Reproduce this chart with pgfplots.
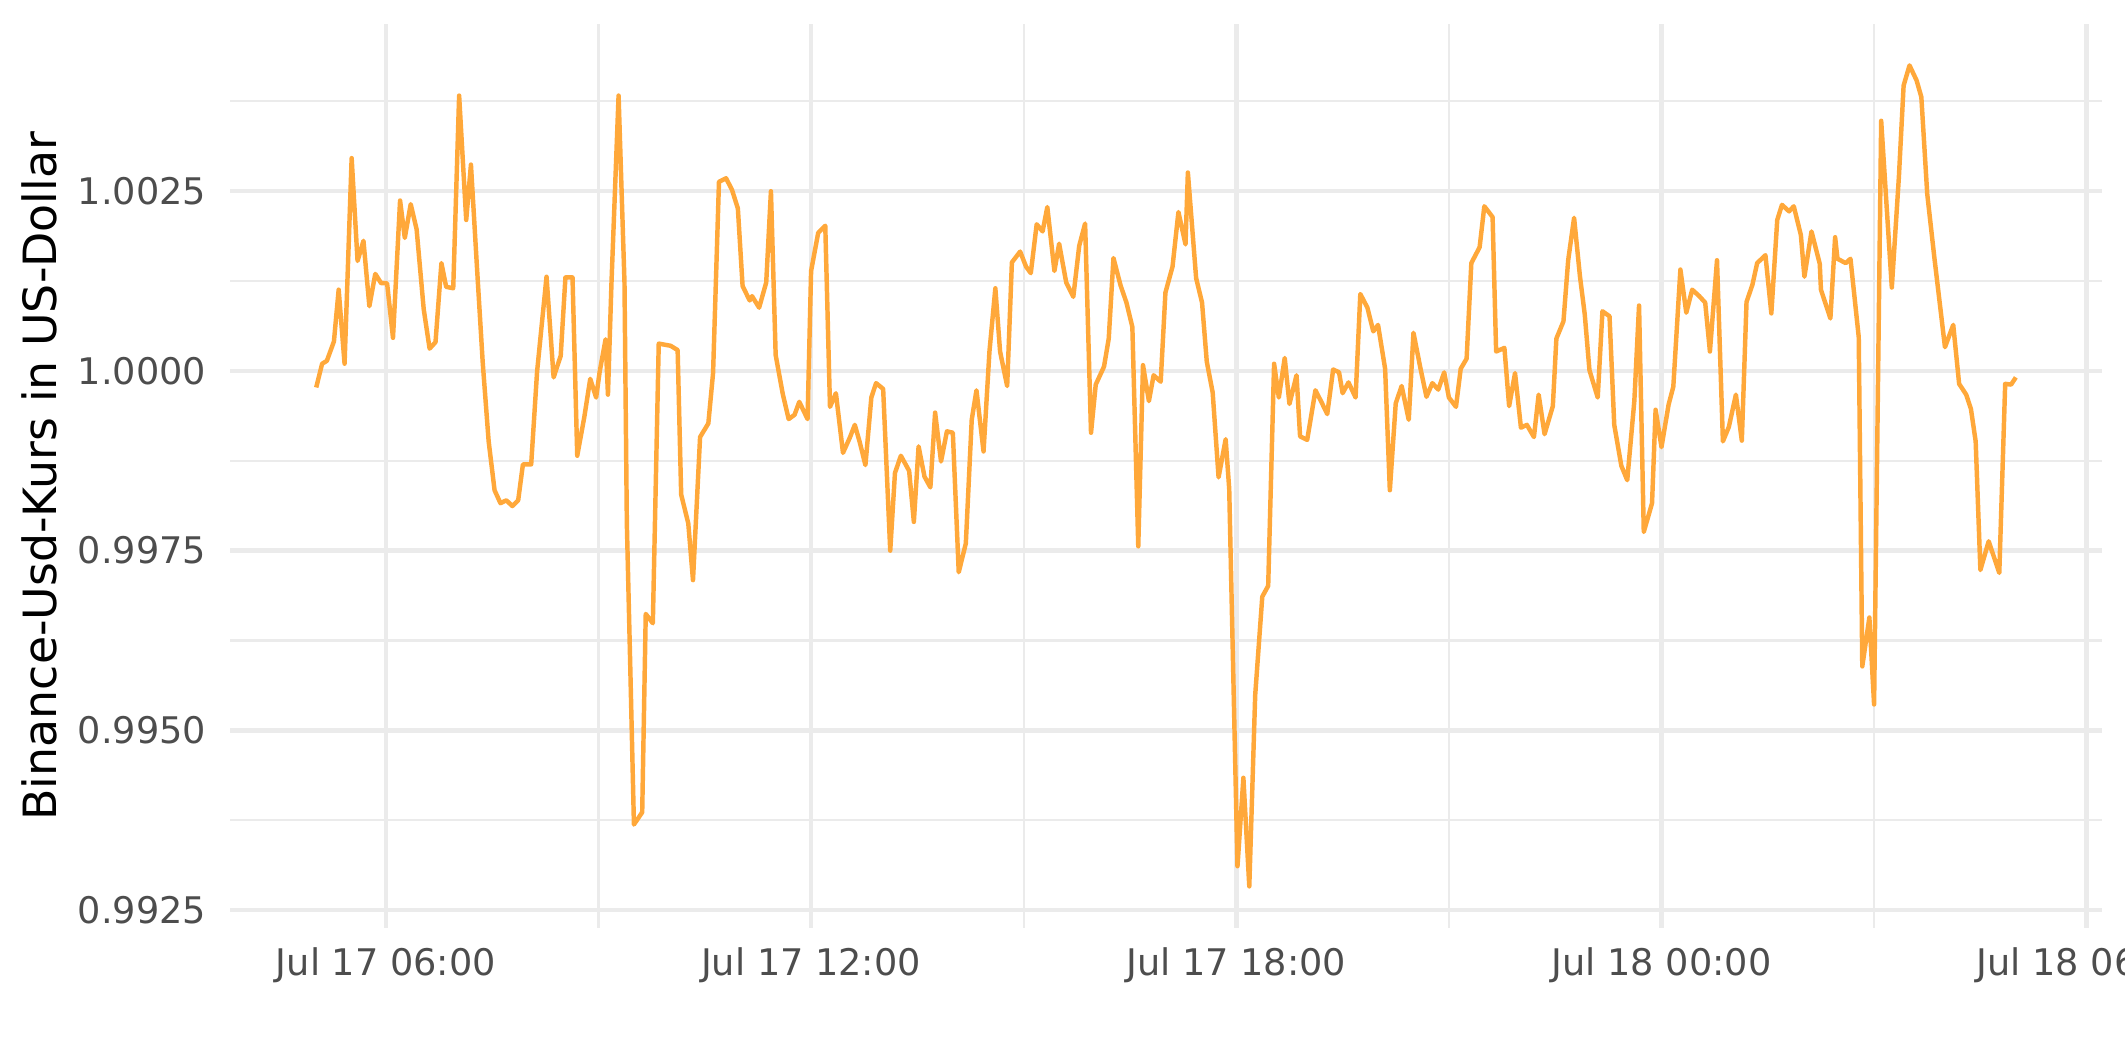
\documentclass[border=0pt]{standalone}
\usepackage{pgfplots}
\pgfplotsset{compat=1.18}
\usepackage{fontspec}
\setmainfont{DejaVu Sans}
\definecolor{linecol}{HTML}{FFA83A}
\definecolor{gridcol}{HTML}{EBEBEB}
\definecolor{tickcol}{HTML}{4D4D4D}

% minutes since Jul 17 00:00, rate
\pgfplotstableread{
t v
301 0.99977
306 1.00010
310 1.00014
316 1.00041
320 1.00113
325 1.00010
331 1.00296
336 1.00153
341 1.00181
346 1.00090
351 1.00135
356 1.00122
361 1.00122
366 1.00046
372 1.00237
376 1.00185
381 1.00232
386 1.00197
392 1.00086
397 1.00031
402 1.00040
407 1.00150
411 1.00117
417 1.00115
422 1.00383
428 1.00210
432 1.00287
437 1.00147
442 1.00011
447 0.99902
452 0.99834
457 0.99816
462 0.99820
467 0.99812
472 0.99820
476 0.99870
483 0.99870
488 0.99999
496 1.00131
502 0.99991
508 1.00021
512 1.00130
518 1.00130
522 0.99882
528 0.99936
533 0.99989
538 0.99963
541 0.99999
546 1.00044
548 0.99967
551 1.00123
557 1.00383
562 1.00123
564 0.99788
567 0.99581
570 0.99369
577 0.99386
580 0.99662
586 0.99649
591 1.00038
601 1.00035
607 1.00029
610 0.99828
616 0.99788
620 0.99709
626 0.99908
633 0.99927
637 0.99997
642 1.00263
648 1.00268
653 1.00252
658 1.00226
662 1.00118
668 1.00098
670 1.00104
676 1.00088
682 1.00123
686 1.00250
690 1.00022
696 0.99968
701 0.99933
706 0.99939
710 0.99957
717 0.99933
720 1.00139
726 1.00192
732 1.00202
736 0.99950
741 0.99969
747 0.99886
753 0.99908
757 0.99925
761 0.99902
766 0.99869
771 0.99963
775 0.99983
781 0.99975
787 0.99750
791 0.99858
796 0.99882
803 0.99861
807 0.99790
811 0.99895
816 0.99853
821 0.99838
825 0.99942
830 0.99874
835 0.99916
840 0.99914
845 0.99720
851 0.99760
856 0.99932
860 0.99973
866 0.99888
871 1.00027
876 1.00115
880 1.00027
886 0.99979
890 1.00151
897 1.00166
902 1.00145
906 1.00136
911 1.00204
916 1.00194
920 1.00228
926 1.00139
930 1.00177
936 1.00123
942 1.00103
947 1.00174
952 1.00205
957 0.99914
961 0.99981
968 1.00006
972 1.00045
976 1.00157
982 1.00119
987 1.00095
992 1.00061
997 0.99756
1001 1.00008
1006 0.99958
1010 0.99994
1016 0.99985
1020 1.00109
1026 1.00145
1031 1.00221
1037 1.00176
1039 1.00276
1046 1.00129
1051 1.00095
1055 1.00013
1060 0.99970
1065 0.99852
1071 0.99905
1074 0.99836
1081 0.99311
1086 0.99434
1091 0.99283
1096 0.99549
1102 0.99686
1107 0.99701
1112 1.00010
1116 0.99963
1121 1.00018
1125 0.99954
1131 0.99994
1134 0.99909
1140 0.99904
1147 0.99973
1152 0.99957
1157 0.99940
1162 1.00002
1167 0.99998
1170 0.99969
1175 0.99984
1181 0.99963
1185 1.00107
1191 1.00088
1196 1.00055
1200 1.00064
1206 1.00003
1210 0.99834
1215 0.99955
1220 0.99979
1226 0.99932
1230 1.00053
1236 1.00003
1241 0.99964
1246 0.99983
1251 0.99974
1256 0.99998
1260 0.99963
1266 0.99950
1270 1.00003
1275 1.00017
1279 1.00150
1286 1.00172
1290 1.00229
1297 1.00214
1300 1.00027
1307 1.00032
1311 0.99951
1316 0.99997
1321 0.99921
1326 0.99925
1332 0.99908
1336 0.99967
1341 0.99912
1348 0.99951
1351 1.00045
1357 1.00069
1361 1.00154
1366 1.00213
1371 1.00131
1375 1.00079
1379 1.00001
1386 0.99963
1390 1.00083
1396 1.00076
1400 0.99925
1406 0.99868
1411 0.99848
1417 0.99958
1421 1.00091
1425 0.99776
1432 0.99816
1435 0.99946
1440 0.99894
1446 0.99953
1450 0.99978
1456 1.00141
1461 1.00081
1466 1.00113
1472 1.00104
1477 1.00095
1481 1.00027
1487 1.00154
1492 0.99902
1497 0.99922
1503 0.99967
1508 0.99903
1512 1.00096
1517 1.00120
1521 1.00150
1528 1.00161
1533 1.00080
1538 1.00210
1542 1.00231
1548 1.00222
1552 1.00229
1558 1.00189
1561 1.00131
1567 1.00194
1574 1.00149
1575 1.00113
1583 1.00073
1587 1.00186
1589 1.00156
1596 1.00150
1600 1.00156
1607 1.00047
1610 0.99589
1616 0.99657
1620 0.99536
1626 1.00348
1635 1.00116
1641 1.00270
1645 1.00397
1650 1.00425
1656 1.00404
1660 1.00381
1665 1.00246
1671 1.00158
1680 1.00033
1687 1.00064
1692 0.99982
1698 0.99967
1702 0.99947
1706 0.99902
1710 0.99723
1717 0.99763
1726 0.99719
1731 0.99982
1736 0.99981
1740 0.99991
}\kurs

\begin{document}
\begin{tikzpicture}
\begin{axis}[
    at={(0,0)}, anchor=south west,
    width=449.2pt, height=216.8pt, scale only axis,
    xmin=228, xmax=1812.7,
    ymin=0.992254, ymax=1.00482,
    axis line style={draw=none},
    major tick length=0pt, minor tick length=0pt,
    xtick={360,720,1080,1440,1800},
    xticklabels={Jul 17 06:00,Jul 17 12:00,Jul 17 18:00,Jul 18 00:00,Jul 18 06:00},
    minor xtick={540,900,1260,1620},
    ytick={0.9925,0.995,0.9975,1,1.0025},
    minor ytick={0.99375,0.99625,0.99875,1.00125,1.00375},
    scaled y ticks=false,
    /pgf/number format/fixed,
    /pgf/number format/fixed zerofill,
    /pgf/number format/precision=4,
    /pgf/number format/assume math mode=true,
    grid=both,
    major grid style={gridcol, line width=1.07pt},
    minor grid style={gridcol, line width=0.53pt},
    ticklabel style={font=\fontsize{8.8}{10}\selectfont, text=tickcol, inner sep=0pt},
    xticklabel style={anchor=base, yshift=-11.5pt},
    yticklabel style={anchor=east, xshift=-5.5pt},
]
\addplot[linecol, line width=1.07pt, mark=none, line join=round] table[x=t, y=v] {\kurs};
\end{axis}
\node[rotate=90, anchor=base, font=\fontsize{11}{13}\selectfont] at (-41.6pt,108.4pt) {Binance-Usd-Kurs in US-Dollar};
\pgfresetboundingbox
\path[use as bounding box] (-55.2pt,-32.2pt) rectangle (454.8pt,222.66pt);
\end{tikzpicture}
\end{document}
